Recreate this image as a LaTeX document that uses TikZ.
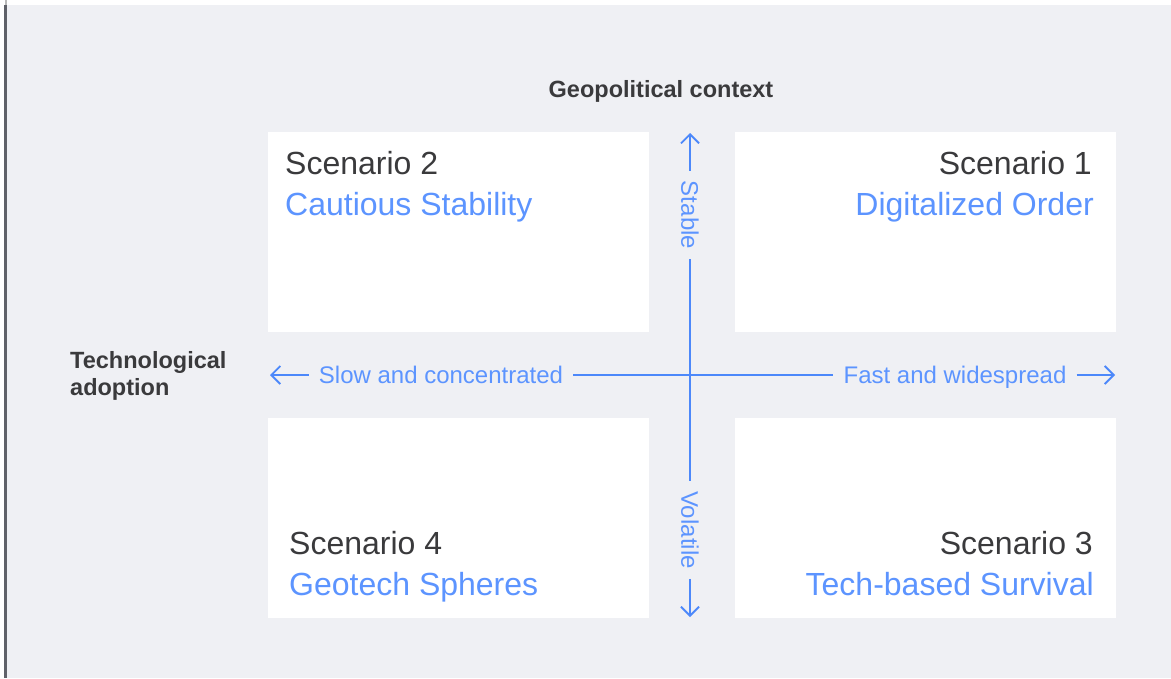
\documentclass[tikz,border=0pt]{standalone}
\usepackage{fontspec}
\setmainfont{Liberation Sans}
\usetikzlibrary{arrows.meta}
\definecolor{pagebg}{RGB}{239,240,244}
\definecolor{edgebar}{RGB}{95,97,105}
\definecolor{inkgray}{RGB}{58,58,60}
\definecolor{axisblue}{RGB}{76,136,250}
\definecolor{labelblue}{RGB}{92,148,255}
\begin{document}
\begin{tikzpicture}[x=1pt,y=-1pt,
  quad/.style={fill=white, draw=none, inner sep=0pt, minimum width=381pt, minimum height=200pt, anchor=north west},
  scen/.style={font=\fontsize{32}{38}\selectfont, text=inkgray, inner sep=0pt},
  scenname/.style={font=\fontsize{32}{38}\selectfont, text=labelblue, inner sep=0pt},
  axislabel/.style={font=\fontsize{24}{28}\selectfont, text=labelblue, inner xsep=10pt, inner ysep=0pt, text height=17.2pt, text depth=0pt},
  axisline/.style={draw=axisblue, line width=1.8pt},
  axisarrow/.style={axisline, -{Straight Barb[length=9pt,width=18pt]}},
  heading/.style={font=\bfseries\fontsize{23.5}{27}\selectfont, text=inkgray, inner sep=0pt}
]
\useasboundingbox (0,0) rectangle (1171,678);

% page background and left edge bar
\fill[white] (0,0) rectangle (1171,678);
\fill[pagebg] (7,5) rectangle (1171,678);
\fill[edgebar] (4,5) rectangle (7,678);
\fill[gray!55] (4.5,0) rectangle (6.5,5);

% quadrant panels
\node[quad] (q2) at (268,132) {};
\node[quad] (q1) at (735,132) {};
\node[quad] (q4) at (268,418) {};
\node[quad] (q3) at (735,418) {};

% axis headings
\node[heading, anchor=base] (geo) at (661,97) {Geopolitical context};
\node[heading, anchor=base west] (tech1) at (70,368) {Technological};
\node[heading, anchor=base west] (tech2) at (70,395) {adoption};

% scenario titles
\node[scen, anchor=base west] (s2) at (285,174) {Scenario 2};
\node[scenname, anchor=base west] (n2) at (285,215) {Cautious Stability};
\node[scen, anchor=base east] (s1) at (1092,174) {Scenario 1};
\node[scenname, anchor=base east] (n1) at (1094,215) {Digitalized Order};
\node[scen, anchor=base west] (s4) at (289,554) {Scenario 4};
\node[scenname, anchor=base west] (n4) at (289,595) {Geotech Spheres};
\node[scen, anchor=base east] (s3) at (1093,554) {Scenario 3};
\node[scenname, anchor=base east] (n3) at (1094,595) {Tech-based Survival};

% axis labels
\node[axislabel, rotate=-90] (stable) at (690,215) {Stable};
\node[axislabel, rotate=-90] (volatile) at (690,530) {Volatile};
\node[axislabel] (slow) at (441,375) {Slow and concentrated};
\node[axislabel] (fast) at (955,375) {Fast and widespread};

% arrow ends
\coordinate (up) at (690,133);
\coordinate (down) at (690,617);
\coordinate (left) at (270,375);
\coordinate (right) at (1115,375);

% axes
\draw[axisarrow] (stable.west) -- (up);
\draw[axisline] (stable.east) -- (volatile.west);
\draw[axisarrow] (volatile.east) -- (down);
\draw[axisarrow] (slow.west) -- (left);
\draw[axisline] (slow.east) -- (fast.west);
\draw[axisarrow] (fast.east) -- (right);
\end{tikzpicture}
\end{document}
